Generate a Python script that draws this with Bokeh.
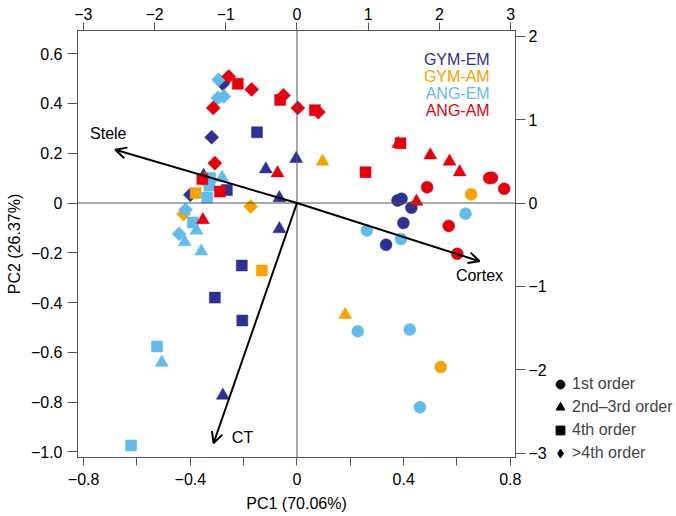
import numpy as np
from bokeh.plotting import figure
from bokeh.layouts import row
from bokeh.models import (Range1d, LinearAxis, FixedTicker, Span, Arrow, OpenHead,
                          ColumnDataSource, Legend, LegendItem, Label)
from bokeh.core.properties import value
from bokeh.embed import file_html
from bokeh.resources import INLINE

FONT = "Liberation Sans"

# ---------------- data ----------------
groups = ["GYM-EM", "GYM-AM", "ANG-EM", "ANG-AM"]
group_colors = ["#2E3192", "#F5A300", "#62BBE9", "#E3000F"]

orders = ["1st order", "2nd\u20133rd order", "4th order", ">4th order"]

# order index: 0 = 1st, 1 = 2nd-3rd, 2 = 4th, 3 = >4th
gym_em_pc1 = [0.377, 0.392, 0.429, 0.399, 0.334,
              -0.117, -0.003, -0.350, -0.066, -0.066, -0.278,
              -0.150, -0.263, -0.207, -0.308, -0.205,
              -0.278, -0.320, -0.400]
gym_em_pc2 = [0.010, 0.017, -0.019, -0.080, -0.168,
              0.136, 0.178, 0.110, 0.020, -0.104, -0.773,
              0.284, 0.052, -0.251, -0.380, -0.472,
              0.479, 0.264, 0.033]
gym_em_order = [0, 0, 0, 0, 0, 1, 1, 1, 1, 1, 1, 2, 2, 2, 2, 2, 3, 3, 3]

gym_am_pc1 = [0.653, 0.539, 0.096, 0.181, -0.380, -0.132, -0.174, -0.425]
gym_am_pc2 = [0.035, -0.659, 0.167, -0.449, 0.040, -0.271, -0.014, -0.044]
gym_am_order = [0, 0, 1, 1, 2, 2, 3, 3]

ang_em_pc1 = [0.632, 0.262, 0.390, 0.228, 0.423, 0.461,
              -0.281, -0.377, -0.421, -0.359, -0.507,
              -0.326, -0.328, -0.337, -0.391, -0.525, -0.622,
              -0.294, -0.297, -0.274, -0.418, -0.442, -0.346]
ang_em_pc2 = [-0.043, -0.110, -0.145, -0.515, -0.508, -0.820,
              0.102, -0.110, -0.157, -0.194, -0.641,
              0.100, 0.070, 0.022, -0.078, -0.576, -0.974,
              0.495, 0.422, 0.428, -0.027, -0.124, 0.090]
ang_em_order = [0, 0, 0, 0, 0, 0, 1, 1, 1, 1, 1, 2, 2, 2, 2, 2, 2, 3, 3, 3, 3, 3, 3]

ang_am_pc1 = [0.721, 0.731, 0.777, 0.488, 0.569, 0.601,
              0.380, 0.500, 0.572, 0.610, 0.448, -0.073, -0.353,
              0.388, 0.257, -0.222, -0.063, 0.067, -0.355, -0.289,
              -0.256, -0.170, -0.051, 0.003, 0.080, -0.314, -0.308]
ang_am_pc2 = [0.100, 0.101, 0.057, 0.063, -0.092, -0.204,
              0.238, 0.192, 0.167, 0.124, 0.006, 0.120, -0.068,
              0.240, 0.124, 0.479, 0.414, 0.373, 0.096, 0.046,
              0.508, 0.456, 0.432, 0.382, 0.365, 0.382, 0.160]
ang_am_order = [0, 0, 0, 0, 0, 0, 1, 1, 1, 1, 1, 1, 1, 2, 2, 2, 2, 2, 2, 2,
                3, 3, 3, 3, 3, 3, 3]

# variable loadings (top / right axes)
var_names = ["Stele", "Cortex", "CT"]
load1 = [-2.552, 2.562, -1.172]
load2 = [0.637, -0.697, -2.877]

# axis ticks
x_ticks = [-0.8, -0.6, -0.4, -0.2, 0, 0.2, 0.4, 0.6, 0.8]
x_labels = ["\u22120.8", "", "\u22120.4", "", "0", "", "0.4", "", "0.8"]
y_ticks = [-1.0, -0.8, -0.6, -0.4, -0.2, 0, 0.2, 0.4, 0.6]
y_labels = ["\u22121.0", "\u22120.8", "\u22120.6", "\u22120.4", "\u22120.2", "0", "0.2", "0.4", "0.6"]
top_ticks = [-3, -2, -1, 0, 1, 2, 3]
top_labels = ["\u22123", "\u22122", "\u22121", "0", "1", "2", "3"]
right_ticks = [-3, -2, -1, 0, 1, 2]
right_labels = ["\u22123", "\u22122", "\u22121", "0", "1", "2"]

# ---------------- styles ----------------
order_marker = ["circle", "triangle", "square", "square"]
order_size = [12, 13, 11, 10]
order_angle = [0, 0, 0, np.pi / 4]

p = figure(width=549, height=516,
           x_range=Range1d(-0.8231, 0.8194), y_range=Range1d(-1.0221, 0.6928),
           output_backend="svg", toolbar_location=None,
           min_border_left=77, min_border_right=31,
           min_border_top=30, min_border_bottom=59)
p.grid.visible = False
p.outline_line_color = "#555555"
p.background_fill_color = "white"
p.border_fill_color = "white"
p.frame_align = False

p.extra_x_ranges = {"top": Range1d(-3.082, 3.068)}
p.extra_y_ranges = {"right": Range1d(-3.048, 2.066)}


def style_axis(ax, ticks, labels, tick_out, standoff):
    ax.ticker = FixedTicker(ticks=ticks)
    ax.major_label_overrides = dict(zip(ticks, labels))
    ax.minor_tick_line_color = None
    ax.major_tick_out = tick_out
    ax.major_tick_in = 0
    ax.axis_line_color = "#555555"
    ax.major_tick_line_color = "#555555"
    ax.major_label_text_font = FONT
    ax.major_label_text_font_size = "16px"
    ax.major_label_text_color = "black"
    ax.major_label_standoff = standoff
    ax.axis_label_text_font = FONT
    ax.axis_label_text_font_size = "16px"
    ax.axis_label_text_font_style = "normal"
    ax.axis_label_text_color = "black"


xax = p.xaxis[0]
style_axis(xax, x_ticks, x_labels, 8, 7)
xax.axis_label = "PC1 (70.06%)"
xax.axis_label_standoff = 7

yax = p.yaxis[0]
style_axis(yax, y_ticks, y_labels, 10, 5)
yax.axis_label = "PC2 (26.37%)"
yax.axis_label_standoff = 5

tax = LinearAxis(x_range_name="top")
style_axis(tax, top_ticks, top_labels, 8, 3)
p.add_layout(tax, "above")

rax = LinearAxis(y_range_name="right")
style_axis(rax, right_ticks, right_labels, 10, 3)
p.add_layout(rax, "right")

# zero lines
p.add_layout(Span(location=0, dimension="height", line_color="#555555", line_width=1))
p.add_layout(Span(location=0, dimension="width", line_color="#555555", line_width=1))

# points
series = [(gym_em_pc1, gym_em_pc2, gym_em_order),
          (gym_am_pc1, gym_am_pc2, gym_am_order),
          (ang_em_pc1, ang_em_pc2, ang_em_order),
          (ang_am_pc1, ang_am_pc2, ang_am_order)]
for (x, y, o), col in zip(series, group_colors):
    src = ColumnDataSource(dict(
        x=x, y=y,
        marker=[order_marker[k] for k in o],
        size=[order_size[k] for k in o],
        angle=[order_angle[k] for k in o]))
    p.scatter("x", "y", source=src, marker="marker", size="size", angle="angle",
              fill_color=col, line_color=col, line_width=0.5)

# loading arrows
asrc = ColumnDataSource(dict(x0=[0] * len(load1), y0=[0] * len(load2), x1=load1, y1=load2))
p.add_layout(Arrow(end=OpenHead(size=11, line_width=2, line_color="black"),
                   x_start="x0", y_start="y0", x_end="x1", y_end="y1",
                   line_width=2, line_color="black", source=asrc,
                   x_range_name="top", y_range_name="right"))
tsrc = ColumnDataSource(dict(x=load1, y=load2, text=var_names,
                             dx=[-7, 0, 29], dy=[-16, 14, -6]))
p.text("x", "y", text="text", source=tsrc, x_offset="dx", y_offset="dy",
       x_range_name="top", y_range_name="right",
       text_font=value(FONT), text_font_size="16px", text_color="black",
       text_align="center", text_baseline="middle")

# group colour key
key_y = [0.576, 0.508, 0.440, 0.371]
for g, col, yy in zip(groups, group_colors, key_y):
    p.add_layout(Label(x=0.7225, y=yy, text=g, text_color=col, text_align="right",
                       text_baseline="middle", text_font=FONT, text_font_size="16px"))

# order legend in a narrow companion panel to the right
p2 = figure(width=127, height=516, x_range=Range1d(0, 1), y_range=Range1d(0, 1),
            output_backend="svg", toolbar_location=None,
            x_axis_location=None, y_axis_location=None, min_border=0)
p2.grid.visible = False
p2.outline_line_color = None
p2.background_fill_color = "white"
p2.border_fill_color = "white"
p2.frame_align = False
items = []
for name, mk in zip(orders, ["circle", "triangle", "square", "diamond"]):
    r = p2.scatter(x=[np.nan], y=[np.nan], marker=mk, fill_color="black", line_color="black")
    items.append(LegendItem(label=name, renderers=[r]))
leg = Legend(items=items, location=(0, 52), padding=0, margin=0,
             glyph_width=22, glyph_height=22, label_height=22, spacing=1,
             label_standoff=1, label_text_font=FONT, label_text_font_size="16px",
             background_fill_alpha=0, border_line_alpha=0)
p2.add_layout(leg, "center")

layout = row(p, p2, spacing=0)
open("out.html", "w").write(file_html(layout, INLINE))
